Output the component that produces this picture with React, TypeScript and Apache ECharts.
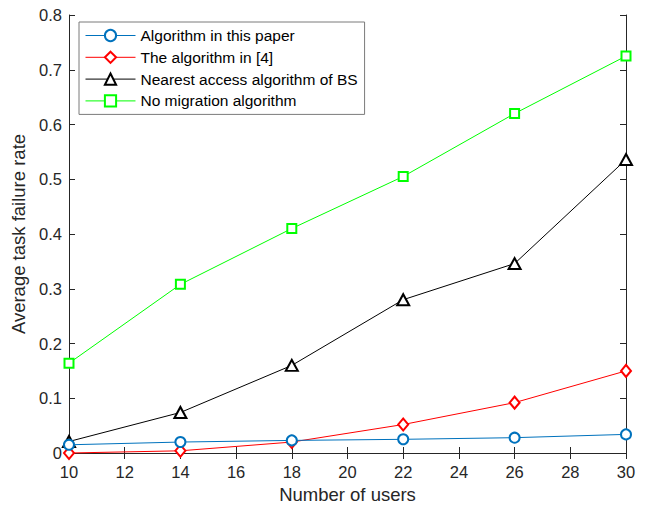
import React, { useEffect, useRef } from "react";
import * as echarts from "echarts";

const users = [10, 14, 18, 22, 26, 30];
const seriesNames = [
  "Algorithm in this paper",
  "The algorithm in [4]",
  "Nearest access algorithm of BS",
  "No migration algorithm",
];
const ours = [0.015, 0.02, 0.023, 0.025, 0.028, 0.034];
const ref4 = [0.0, 0.004, 0.02, 0.052, 0.092, 0.15];
const nearest = [0.021, 0.074, 0.16, 0.28, 0.346, 0.536];
const noMigration = [0.164, 0.308, 0.41, 0.505, 0.62, 0.725];

const colors = ["#0072BD", "#FF0000", "#000000", "#00FF00"];
const symbols = ["emptyCircle", "emptyDiamond", "emptyTriangle", "emptyRect"];
const symbolSizes: any[] = [10, [10, 12], [12, 11], 9];

const FONT = "'Liberation Sans', Arial, Helvetica, sans-serif";
const AXIS_COLOR = "#262626";

export default function App() {
  const ref = useRef<HTMLDivElement>(null);
  useEffect(() => {
    if (!ref.current) return;
    const chart = echarts.init(ref.current, undefined, { renderer: "svg" });
    const allData = [ours, ref4, nearest, noMigration];
    const axisCommon = {
      axisLine: { show: true, lineStyle: { color: AXIS_COLOR, width: 1 } },
      axisTick: { show: true, inside: true, length: 6, lineStyle: { color: AXIS_COLOR } },
      splitLine: { show: false },
    };
    chart.setOption({
      animation: false,
      backgroundColor: "#ffffff",
      textStyle: { fontFamily: FONT },
      grid: { left: 69, right: 20, top: 15, bottom: 55 },
      legend: {
        orient: "vertical",
        left: 79,
        top: 22,
        padding: [5.5, 7, 5.5, 6],
        itemWidth: 50,
        itemHeight: 14,
        itemGap: 5.8,
        backgroundColor: "#ffffff",
        borderColor: "#7a7a7a",
        borderWidth: 1,
        borderRadius: 0,
        itemStyle: { borderWidth: 1 },
        lineStyle: { width: 1 },
        textStyle: { fontFamily: FONT, fontSize: 15.5, color: "#000000" },
        data: seriesNames,
      },
      xAxis: [
        {
          type: "value",
          min: 10,
          max: 30,
          interval: 2,
          name: "Number of users",
          nameLocation: "middle",
          nameGap: 32,
          nameTextStyle: { fontFamily: FONT, fontSize: 18.5, color: AXIS_COLOR },
          axisLabel: { fontFamily: FONT, fontSize: 16.5, color: AXIS_COLOR, margin: 10 },
          ...axisCommon,
        },
        {
          type: "value",
          position: "top",
          min: 10,
          max: 30,
          interval: 2,
          axisLabel: { show: false },
          ...axisCommon,
        },
      ],
      yAxis: [
        {
          type: "value",
          min: 0,
          max: 0.8,
          interval: 0.1,
          name: "Average task failure rate",
          nameLocation: "middle",
          nameGap: 38,
          nameTextStyle: { fontFamily: FONT, fontSize: 18.5, color: AXIS_COLOR },
          axisLabel: { fontFamily: FONT, fontSize: 16.5, color: AXIS_COLOR, margin: 7 },
          ...axisCommon,
        },
        {
          type: "value",
          position: "right",
          min: 0,
          max: 0.8,
          interval: 0.1,
          axisLabel: { show: false },
          ...axisCommon,
        },
      ],
      series: seriesNames.map((name, i) => ({
        name,
        type: "line",
        data: users.map((u, j) => [u, allData[i][j]]),
        symbol: symbols[i],
        symbolSize: symbolSizes[i],
        showAllSymbol: true,
        lineStyle: { color: colors[i], width: 1 },
        itemStyle: { color: colors[i], borderColor: colors[i], borderWidth: 1 },
        emphasis: { disabled: true },
        clip: false,
        z: 10 - i,
      })),
    });
    return () => chart.dispose();
  }, []);
  return <div ref={ref} style={{ width: 646, height: 509, position: "absolute", left: 0, top: 0 }} />;
}
